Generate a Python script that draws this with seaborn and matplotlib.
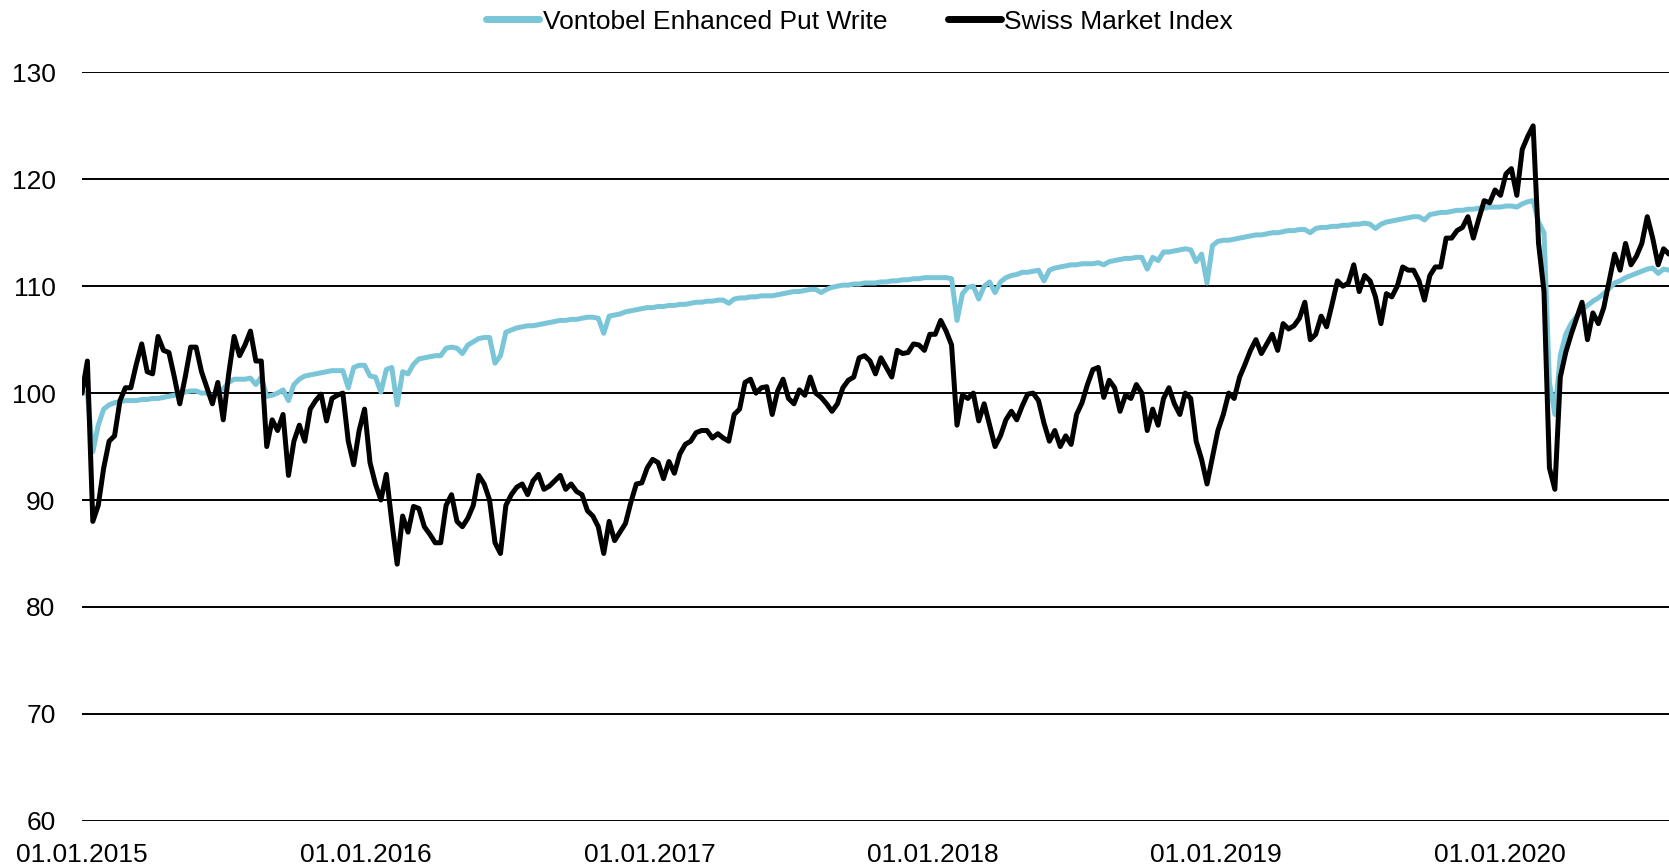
import pandas as pd
import matplotlib
matplotlib.use("Agg")
import matplotlib.pyplot as plt
import matplotlib.dates as mdates
import seaborn as sns

# weekly closes (indexed to 100 at 01.01.2015)
smi_2015 = [100.0, 103.0, 88.0, 89.5, 93.0, 95.5, 96.0, 99.3, 100.5, 100.5, 102.7, 104.6, 102.0,
            101.8, 105.3, 104.0, 103.8, 101.5, 99.0, 101.5, 104.3, 104.3, 102.0, 100.5, 99.0, 101.0,
            97.5, 101.8, 105.3, 103.5, 104.5, 105.8, 103.0, 103.0, 95.0, 97.5, 96.5, 98.0, 92.3,
            95.5, 97.0, 95.5, 98.5, 99.3, 99.9, 97.4, 99.5, 99.8, 100.0, 95.5, 93.3, 96.5]
smi_2016 = [98.5, 93.5, 91.5, 90.0, 92.4, 88.0, 84.0, 88.5, 87.0, 89.4, 89.2, 87.5, 86.8,
            86.0, 86.0, 89.5, 90.5, 88.0, 87.5, 88.3, 89.5, 92.3, 91.5, 90.0, 86.0, 85.0,
            89.5, 90.5, 91.2, 91.5, 90.5, 91.8, 92.4, 91.0, 91.3, 91.8, 92.3, 91.0, 91.5,
            90.8, 90.5, 89.0, 88.5, 87.5, 85.0, 88.0, 86.2, 87.0, 87.8, 89.8, 91.5, 91.6]
smi_2017 = [93.0, 93.8, 93.5, 92.0, 93.6, 92.5, 94.3, 95.2, 95.5, 96.3, 96.5, 96.5, 95.8,
            96.2, 95.8, 95.5, 98.0, 98.5, 101.0, 101.3, 100.0, 100.5, 100.6, 98.0, 100.2, 101.3,
            99.5, 99.0, 100.3, 99.8, 101.5, 100.0, 99.6, 99.0, 98.3, 99.0, 100.5, 101.2, 101.5,
            103.3, 103.5, 103.0, 101.8, 103.3, 102.4, 101.5, 104.0, 103.7, 103.8, 104.6, 104.5, 104.0]
smi_2018 = [105.5, 105.5, 106.8, 105.8, 104.5, 97.0, 99.8, 99.5, 100.0, 97.4, 99.0, 97.0, 95.0,
            96.0, 97.5, 98.3, 97.5, 98.8, 99.9, 100.0, 99.3, 97.2, 95.5, 96.5, 95.0, 96.0,
            95.2, 98.0, 99.1, 100.8, 102.2, 102.4, 99.6, 101.2, 100.5, 98.3, 99.8, 99.5, 100.8,
            100.0, 96.5, 98.5, 97.0, 99.5, 100.5, 99.0, 98.0, 100.0, 99.5, 95.5, 93.8, 91.5]
smi_2019 = [94.0, 96.5, 98.0, 100.0, 99.5, 101.5, 102.7, 104.0, 105.0, 103.7, 104.6, 105.5, 104.0,
            106.5, 106.0, 106.3, 107.0, 108.5, 105.0, 105.5, 107.2, 106.2, 108.3, 110.5, 110.0, 110.3,
            112.0, 109.5, 111.0, 110.5, 109.0, 106.5, 109.3, 109.0, 110.0, 111.8, 111.5, 111.5, 110.5,
            108.7, 111.0, 111.8, 111.8, 114.5, 114.5, 115.2, 115.5, 116.5, 114.5, 116.3, 118.0, 117.8]
smi_2020 = [119.0, 118.5, 120.5, 121.0, 118.5, 122.8, 124.0, 125.0, 114.0, 109.5, 93.0, 91.0, 101.5,
            103.8, 105.5, 107.0, 108.5, 105.0, 107.5, 106.5, 108.0, 110.5, 113.0, 111.5, 114.0, 112.0,
            112.8, 114.0, 116.5, 114.5, 112.0, 113.5, 113.0]

vont_2015 = [100.0, 100.0, 94.5, 97.0, 98.5, 98.9, 99.1, 99.2, 99.3, 99.3, 99.3, 99.4, 99.4,
             99.5, 99.5, 99.6, 99.7, 99.8, 99.9, 100.1, 100.2, 100.2, 100.0, 100.0, 99.7, 100.2,
             100.4, 101.0, 101.3, 101.3, 101.3, 101.4, 100.8, 101.5, 99.7, 99.8, 100.0, 100.3, 99.3,
             100.8, 101.3, 101.6, 101.7, 101.8, 101.9, 102.0, 102.1, 102.1, 102.1, 100.5, 102.4, 102.6]
vont_2016 = [102.6, 101.6, 101.5, 100.1, 102.2, 102.4, 98.9, 102.0, 101.8, 102.7, 103.2, 103.3, 103.4,
             103.5, 103.5, 104.2, 104.3, 104.2, 103.7, 104.5, 104.8, 105.1, 105.2, 105.2, 102.8, 103.5,
             105.7, 105.9, 106.1, 106.2, 106.3, 106.3, 106.4, 106.5, 106.6, 106.7, 106.8, 106.8, 106.9,
             106.9, 107.0, 107.1, 107.1, 107.0, 105.6, 107.2, 107.3, 107.4, 107.6, 107.7, 107.8, 107.9]
vont_2017 = [108.0, 108.0, 108.1, 108.1, 108.2, 108.2, 108.3, 108.3, 108.4, 108.5, 108.5, 108.6, 108.6,
             108.7, 108.7, 108.4, 108.8, 108.9, 108.9, 109.0, 109.0, 109.1, 109.1, 109.1, 109.2, 109.3,
             109.4, 109.5, 109.5, 109.6, 109.7, 109.7, 109.4, 109.7, 109.9, 110.0, 110.1, 110.1, 110.2,
             110.2, 110.3, 110.3, 110.3, 110.4, 110.4, 110.5, 110.5, 110.6, 110.6, 110.7, 110.7, 110.8]
vont_2018 = [110.8, 110.8, 110.8, 110.8, 110.7, 106.8, 109.3, 109.9, 110.0, 108.8, 110.0, 110.4, 109.4,
             110.4, 110.8, 111.0, 111.1, 111.3, 111.3, 111.4, 111.5, 110.5, 111.5, 111.7, 111.8, 111.9,
             112.0, 112.0, 112.1, 112.1, 112.1, 112.2, 112.0, 112.3, 112.4, 112.5, 112.6, 112.6, 112.7,
             112.7, 111.6, 112.7, 112.4, 113.2, 113.2, 113.3, 113.4, 113.5, 113.4, 112.3, 113.0, 110.3]
vont_2019 = [113.8, 114.2, 114.3, 114.3, 114.4, 114.5, 114.6, 114.7, 114.8, 114.8, 114.9, 115.0, 115.0,
             115.1, 115.2, 115.2, 115.3, 115.3, 115.0, 115.4, 115.5, 115.5, 115.6, 115.6, 115.7, 115.7,
             115.8, 115.8, 115.9, 115.8, 115.4, 115.8, 116.0, 116.1, 116.2, 116.3, 116.4, 116.5, 116.5,
             116.2, 116.7, 116.8, 116.9, 116.9, 117.0, 117.1, 117.1, 117.2, 117.2, 117.3, 117.3, 117.4]
vont_2020 = [117.4, 117.4, 117.5, 117.5, 117.4, 117.7, 117.9, 118.0, 116.0, 115.0, 101.0, 98.0, 103.5,
             105.5, 106.5, 107.2, 107.8, 108.2, 108.6, 108.9, 109.3, 109.8, 110.3, 110.5, 110.8, 111.0,
             111.2, 111.4, 111.6, 111.7, 111.2, 111.6, 111.5]

series_names = ["Vontobel Enhanced Put Write", "Swiss Market Index"]
series_colors = ["#7AC6D8", "#000000"]
year_ticks = ["2015-01-01", "2016-01-01", "2017-01-01", "2018-01-01", "2019-01-01", "2020-01-01"]
y_ticks = [60, 70, 80, 90, 100, 110, 120, 130]

smi = smi_2015 + smi_2016 + smi_2017 + smi_2018 + smi_2019 + smi_2020
vont = vont_2015 + vont_2016 + vont_2017 + vont_2018 + vont_2019 + vont_2020
dates = pd.date_range("2015-01-01", periods=len(smi), freq="7D")

df = pd.concat([
    pd.DataFrame({"date": dates, "value": vont, "series": series_names[0]}),
    pd.DataFrame({"date": dates, "value": smi, "series": series_names[1]}),
])

sns.set_theme(style="white")
plt.rcParams["font.family"] = ["Liberation Sans", "DejaVu Sans"]
plt.rcParams["text.color"] = "black"

fig = plt.figure(figsize=(16.69, 8.66), dpi=100)
ax = fig.add_axes([0.0491, 0.0523, 0.9509, 0.8641])

sns.lineplot(data=df, x="date", y="value", hue="series", hue_order=series_names,
             palette=series_colors, linewidth=3.6, ax=ax, legend=False)

ax.set_ylim(60, 130)
ax.set_yticks(y_ticks)
ax.set_xlim(pd.Timestamp("2015-01-01"), dates[-1])
ax.set_xticks(pd.to_datetime(year_ticks))
ax.xaxis.set_major_formatter(mdates.DateFormatter("%d.%m.%Y"))
ax.set_xlabel("")
ax.set_ylabel("")
ax.yaxis.grid(True, color="black", linewidth=1.4)
ax.xaxis.grid(False)
ax.set_axisbelow(True)
for s in ax.spines.values():
    s.set_visible(False)
ax.tick_params(axis="both", length=0, labelsize=19, colors="black")
ax.tick_params(axis="y", pad=19)
ax.tick_params(axis="x", pad=16)

handles = [plt.Line2D([], [], color=c, linewidth=5) for c in series_colors]
fig.legend(handles, series_names, loc="center", bbox_to_anchor=(0.515, 0.975), ncol=2,
           frameon=False, fontsize=19, handlelength=2.0, handletextpad=0.15, columnspacing=2.3)

fig.savefig("out.png", dpi=100)
